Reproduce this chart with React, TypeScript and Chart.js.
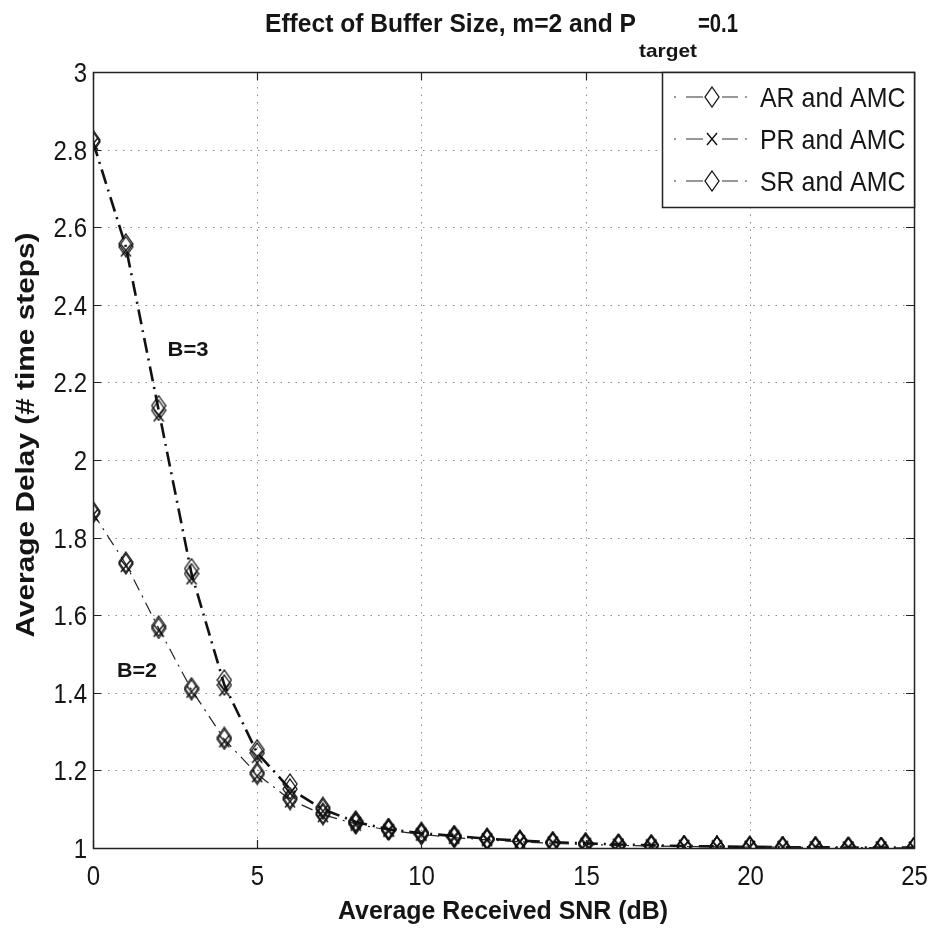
import React, { useEffect, useRef } from "react";
import { Chart, registerables } from "chart.js";
Chart.register(...registerables);

// ---- data ----
const snr = [0, 1, 2, 3, 4, 5, 6, 7, 8, 9, 10, 11, 12, 13, 14, 15, 16, 17, 18, 19, 20, 21, 22, 23, 24, 25];
const b3AR = [2.825, 2.557, 2.14, 1.72, 1.433, 1.253, 1.165, 1.105, 1.07, 1.05, 1.04, 1.032, 1.025, 1.02, 1.016, 1.013, 1.01, 1.008, 1.006, 1.005, 1.004, 1.003, 1.002, 1.002, 1.001, 1.001];
const b3PR = [2.815, 2.54, 2.115, 1.695, 1.407, 1.235, 1.142, 1.095, 1.065, 1.047, 1.037, 1.03, 1.023, 1.018, 1.014, 1.011, 1.009, 1.007, 1.005, 1.004, 1.003, 1.002, 1.002, 1.001, 1.001, 1.001];
const b3SR = [2.82, 2.55, 2.128, 1.707, 1.42, 1.245, 1.152, 1.1, 1.067, 1.048, 1.038, 1.031, 1.024, 1.019, 1.015, 1.012, 1.009, 1.007, 1.005, 1.004, 1.003, 1.002, 1.002, 1.001, 1.001, 1.001];
const b2AR = [1.868, 1.737, 1.572, 1.413, 1.285, 1.195, 1.13, 1.09, 1.065, 1.048, 1.037, 1.028, 1.022, 1.017, 1.013, 1.01, 1.008, 1.006, 1.005, 1.004, 1.003, 1.002, 1.002, 1.001, 1.001, 1.001];
const b2PR = [1.858, 1.727, 1.56, 1.403, 1.275, 1.185, 1.12, 1.082, 1.06, 1.044, 1.034, 1.026, 1.02, 1.015, 1.012, 1.009, 1.007, 1.005, 1.004, 1.003, 1.002, 1.002, 1.001, 1.001, 1.001, 1.0];
const b2SR = [1.863, 1.732, 1.566, 1.408, 1.28, 1.19, 1.125, 1.086, 1.062, 1.046, 1.035, 1.027, 1.021, 1.016, 1.012, 1.009, 1.007, 1.005, 1.004, 1.003, 1.002, 1.002, 1.001, 1.001, 1.001, 1.0];
const legendLabels = ["AR and AMC", "PR and AMC", "SR and AMC"];
const curveLabels = ["B=3", "B=2"];
const titleMain = "Effect of Buffer Size, m=2 and P";
const titleSub = "target";
const titleTail = "=0.1";
const xLabel = "Average Received SNR (dB)";
const yLabel = "Average Delay (# time steps)";

const FONT = '"Liberation Sans", Arial, sans-serif';
const SX = 0.89;

function makeDiamond(w: number, h: number, lw: number) {
  const c = document.createElement("canvas");
  c.width = w + 2;
  c.height = h + 2;
  const x = c.getContext("2d")!;
  x.strokeStyle = "#111";
  x.lineWidth = lw;
  x.beginPath();
  x.moveTo(c.width / 2, 1);
  x.lineTo(c.width - 1, c.height / 2);
  x.lineTo(c.width / 2, c.height - 1);
  x.lineTo(1, c.height / 2);
  x.closePath();
  x.stroke();
  return c;
}
function makeCross(w: number, h: number, lw: number) {
  const c = document.createElement("canvas");
  c.width = w + 2;
  c.height = h + 2;
  const x = c.getContext("2d")!;
  x.strokeStyle = "#111";
  x.lineWidth = lw;
  x.beginPath();
  x.moveTo(1, 1);
  x.lineTo(c.width - 1, c.height - 1);
  x.moveTo(c.width - 1, 1);
  x.lineTo(1, c.height - 1);
  x.stroke();
  return c;
}

function txt(ctx: CanvasRenderingContext2D, s: string, x: number, y: number, font: string, align: CanvasTextAlign, baseline: CanvasTextBaseline, sx: number, targetW?: number) {
  ctx.save();
  ctx.font = font;
  let k = sx;
  if (targetW) k = targetW / ctx.measureText(s).width;
  ctx.translate(x, y);
  ctx.scale(k, 1);
  ctx.textAlign = align;
  ctx.textBaseline = baseline;
  ctx.fillStyle = "#151515";
  ctx.fillText(s, 0, 0);
  ctx.restore();
}

export default function App() {
  const ref = useRef<HTMLCanvasElement>(null);
  useEffect(() => {
    const diamond = makeDiamond(14, 20, 1.3);
    const cross = makeCross(10, 12, 1.4);
    const mk = (vals: number[]) => snr.map((x, i) => ({ x, y: vals[i] }));
    const b3 = { borderColor: "#111", borderWidth: 2.6, borderDash: [15, 6, 2, 6] };
    const b2 = { borderColor: "#222", borderWidth: 1.2, borderDash: [12, 6, 2, 6] };
    const ds = [
      { data: mk(b2AR), pointStyle: diamond, ...b2, showLine: false },
      { data: mk(b2PR), pointStyle: cross, ...b2, showLine: false },
      { data: mk(b2SR), pointStyle: diamond, ...b2, showLine: true },
      { data: mk(b3AR), pointStyle: diamond, ...b3, showLine: false },
      { data: mk(b3PR), pointStyle: cross, ...b3, showLine: false },
      { data: mk(b3SR), pointStyle: diamond, ...b3, showLine: true },
    ].map((d) => ({ ...d, fill: false, tension: 0, pointRadius: 7, backgroundColor: "transparent", pointBorderColor: "#111" }));

    const plugin = {
      id: "paper",
      beforeDatasetsDraw(chart: any) {
        const { ctx, chartArea: a, scales } = chart;
        const x = scales.x, y = scales.y;
        ctx.save();
        ctx.strokeStyle = "#8a8a8a";
        ctx.lineWidth = 1;
        ctx.setLineDash([1.5, 6]);
        x.ticks.forEach((t: any) => {
          if (t.value > x.min && t.value < x.max) {
            const px = Math.round(x.getPixelForValue(t.value)) + 0.5;
            ctx.beginPath(); ctx.moveTo(px, a.top); ctx.lineTo(px, a.bottom); ctx.stroke();
          }
        });
        y.ticks.forEach((t: any) => {
          if (t.value > y.min && t.value < y.max) {
            const py = Math.round(y.getPixelForValue(t.value)) + 0.5;
            ctx.beginPath(); ctx.moveTo(a.left, py); ctx.lineTo(a.right, py); ctx.stroke();
          }
        });
        ctx.restore();
      },
      afterDatasetsDraw(chart: any) {
        const { ctx, chartArea: a, scales } = chart;
        const x = scales.x, y = scales.y;
        ctx.save();
        // box
        ctx.strokeStyle = "#222";
        ctx.lineWidth = 1.5;
        ctx.strokeRect(Math.round(a.left) + 0.5, Math.round(a.top) + 0.5, Math.round(a.right - a.left), Math.round(a.bottom - a.top));
        // inner ticks
        ctx.lineWidth = 1.2;
        const TL = 8;
        x.ticks.forEach((t: any) => {
          const px = Math.round(x.getPixelForValue(t.value)) + 0.5;
          ctx.beginPath();
          ctx.moveTo(px, a.bottom); ctx.lineTo(px, a.bottom - TL);
          ctx.moveTo(px, a.top); ctx.lineTo(px, a.top + TL);
          ctx.stroke();
          txt(ctx, String(t.value), px, a.bottom + 37, `27px ${FONT}`, "center", "alphabetic", SX);
        });
        y.ticks.forEach((t: any) => {
          const py = Math.round(y.getPixelForValue(t.value)) + 0.5;
          ctx.beginPath();
          ctx.moveTo(a.left, py); ctx.lineTo(a.left + TL, py);
          ctx.moveTo(a.right, py); ctx.lineTo(a.right - TL, py);
          ctx.stroke();
          const lab = String(Math.round(t.value * 10) / 10);
          txt(ctx, lab, a.left - 6, py + 9.5, `27px ${FONT}`, "right", "alphabetic", SX);
        });

        // curve labels
        txt(ctx, curveLabels[0], 188, 356, `bold 20px ${FONT}`, "center", "alphabetic", 1, 41);
        txt(ctx, curveLabels[1], 137, 677, `bold 20px ${FONT}`, "center", "alphabetic", 1, 40);

        // legend
        const L = 662, R = a.right, T = a.top, B = 207;
        ctx.fillStyle = "#fff";
        ctx.fillRect(L, T, R - L, B - T);
        ctx.strokeStyle = "#222";
        ctx.lineWidth = 1.5;
        ctx.strokeRect(L + 0.5, T + 0.5, R - L, B - T);
        const rows = [97, 139, 181];
        const marks = [diamond, cross, diamond];
        rows.forEach((ry, i) => {
          ctx.strokeStyle = "#333";
          ctx.lineWidth = 1.2;
          ctx.beginPath();
          ctx.moveTo(674, ry); ctx.lineTo(676, ry);
          ctx.moveTo(686, ry); ctx.lineTo(703, ry);
          ctx.moveTo(722, ry); ctx.lineTo(738, ry);
          ctx.moveTo(745, ry); ctx.lineTo(747, ry);
          ctx.stroke();
          const m = marks[i];
          ctx.drawImage(m, 712 - m.width / 2, ry - m.height / 2);
          txt(ctx, legendLabels[i], 760, ry + 10, `28px ${FONT}`, "left", "alphabetic", SX);
        });

        // title
        txt(ctx, titleMain, 265, 32, `bold 26px ${FONT}`, "left", "alphabetic", 1, 371);
        txt(ctx, titleSub, 639, 57, `bold 19px ${FONT}`, "left", "alphabetic", 1, 58);
        txt(ctx, titleTail, 698, 32, `bold 26px ${FONT}`, "left", "alphabetic", 1, 40);

        // x label
        txt(ctx, xLabel, 503, 919, `bold 26px ${FONT}`, "center", "alphabetic", 1, 330);

        // y label
        ctx.save();
        ctx.font = `bold 29px ${FONT}`;
        const wy = ctx.measureText(yLabel).width;
        ctx.translate(34, 435);
        ctx.rotate(-Math.PI / 2);
        ctx.scale(405 / wy, SX);
        ctx.textAlign = "center";
        ctx.textBaseline = "alphabetic";
        ctx.fillStyle = "#151515";
        ctx.fillText(yLabel, 0, 0);
        ctx.restore();

        ctx.restore();
      },
    };

    const chart = new Chart(ref.current!, {
      type: "line",
      data: { datasets: ds as any },
      options: {
        animation: false,
        responsive: false,
        maintainAspectRatio: false,
        layout: { padding: { left: 0, top: 72, right: 15, bottom: 0 } },
        plugins: { legend: { display: false }, title: { display: false }, tooltip: { enabled: false } },
        scales: {
          x: {
            type: "linear",
            min: 0,
            max: 25,
            ticks: { stepSize: 5, display: false },
            grid: { display: false },
            border: { display: false },
            afterFit: (s: any) => { s.height = 84; },
          },
          y: {
            type: "linear",
            min: 1,
            max: 3,
            ticks: { stepSize: 0.2, display: false },
            grid: { display: false },
            border: { display: false },
            afterFit: (s: any) => { s.width = 93; },
          },
        },
      },
      plugins: [plugin],
    });
    return () => chart.destroy();
  }, []);

  return (
    <div style={{ position: "fixed", left: 0, top: 0, width: 929, height: 932, background: "#fff" }}>
      <canvas ref={ref} width={929} height={932} style={{ display: "block", width: 929, height: 932 }} />
    </div>
  );
}
